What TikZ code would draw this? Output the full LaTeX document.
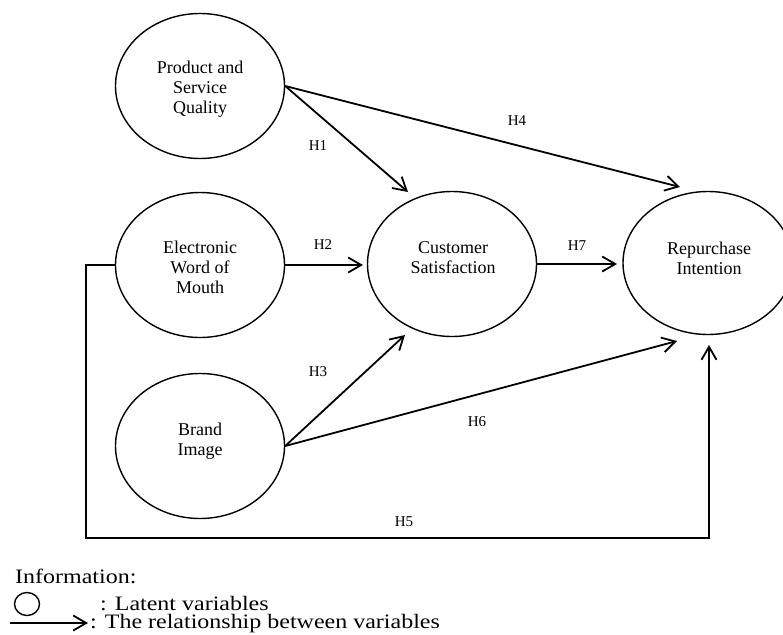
\documentclass[tikz,border=0pt]{standalone}
\usepackage{fontspec}
\setmainfont{Liberation Serif}
\newfontfamily\legendfont[FakeStretch=1.17]{Liberation Serif}
\usetikzlibrary{arrows.meta,shapes.geometric}
\begin{document}
\begin{tikzpicture}[x=1pt,y=-1pt,
 latent/.style={draw,ellipse,line width=1.4pt,minimum width=169pt,minimum height=145pt,inner sep=0pt},
 vartext/.style={align=center,inner sep=0pt,font=\fontsize{18}{20}\selectfont},
 hlabel/.style={inner sep=0pt,font=\fontsize{15}{17}\selectfont},
 rel/.style={line width=1.8pt,-{Straight Barb[length=13pt,width=15pt,line width=1.8pt]}},
 legendtext/.style={inner sep=0pt,font=\legendfont\fontsize{20.5}{18}\selectfont}]
\useasboundingbox (0,0) rectangle (783,634);
\fill[white] (0,0) rectangle (783,634);
% latent variables
\node[latent] (pq) at (200,86) {};
\node[vartext] (pqt) at (200,89) {Product and\\Service\\Quality};
\node[latent] (ew) at (200,265) {};
\node[vartext] (ewt) at (200,267) {Electronic\\Word of\\Mouth};
\node[latent] (bi) at (200,446) {};
\node[vartext] (bit) at (200,441) {Brand\\Image};
\node[latent] (cs) at (452,264) {};
\node[vartext] (cst) at (453,258) {Customer\\Satisfaction};
\node[latent,minimum width=170pt,minimum height=143pt] (ri) at (708,263) {};
\node[vartext] (rit) at (709,258) {Repurchase\\Intention};
% arrow end points
\coordinate (h1e) at (408,192);
\coordinate (h4e) at (680,187);
\coordinate (h2e) at (363,265);
\coordinate (h7e) at (617,264);
\coordinate (h3e) at (405,335);
\coordinate (h6e) at (677,341);
\coordinate (h5c) at (86,538);
\coordinate (h5e) at (709,345);
% relationships
\draw[rel] (pq.east) -- (h1e);
\draw[rel] (pq.east) -- (h4e);
\draw[rel] (ew.east) -- (h2e);
\draw[rel] (cs.east) -- (h7e);
\draw[rel] (bi.east) -- (h3e);
\draw[rel] (bi.east) -- (h6e);
\draw[rel] (ew.west) -| (h5c) -| (h5e);
% labels
\node[hlabel] (l1) at (318,146) {H1};
\node[hlabel] (l4) at (517,121) {H4};
\node[hlabel] (l2) at (323,245) {H2};
\node[hlabel] (l7) at (577,246) {H7};
\node[hlabel] (l3) at (318,372) {H3};
\node[hlabel] (l6) at (477,422) {H6};
\node[hlabel] (l5) at (404,522) {H5};
% legend
\node[legendtext,anchor=base west] (info) at (15,583) {Information:};
\node[draw,ellipse,line width=1.4pt,minimum width=25pt,minimum height=23pt,inner sep=0pt] (lge) at (27,604) {};
\node[legendtext,align=left,anchor=north west] (lgt) at (90,596.5) {\hspace{10pt}: Latent variables\\: The relationship between variables};
\coordinate (lga) at (10,623);
\coordinate (lgb) at (88,623);
\draw[rel] (lga) -- (lgb);
\end{tikzpicture}
\end{document}
